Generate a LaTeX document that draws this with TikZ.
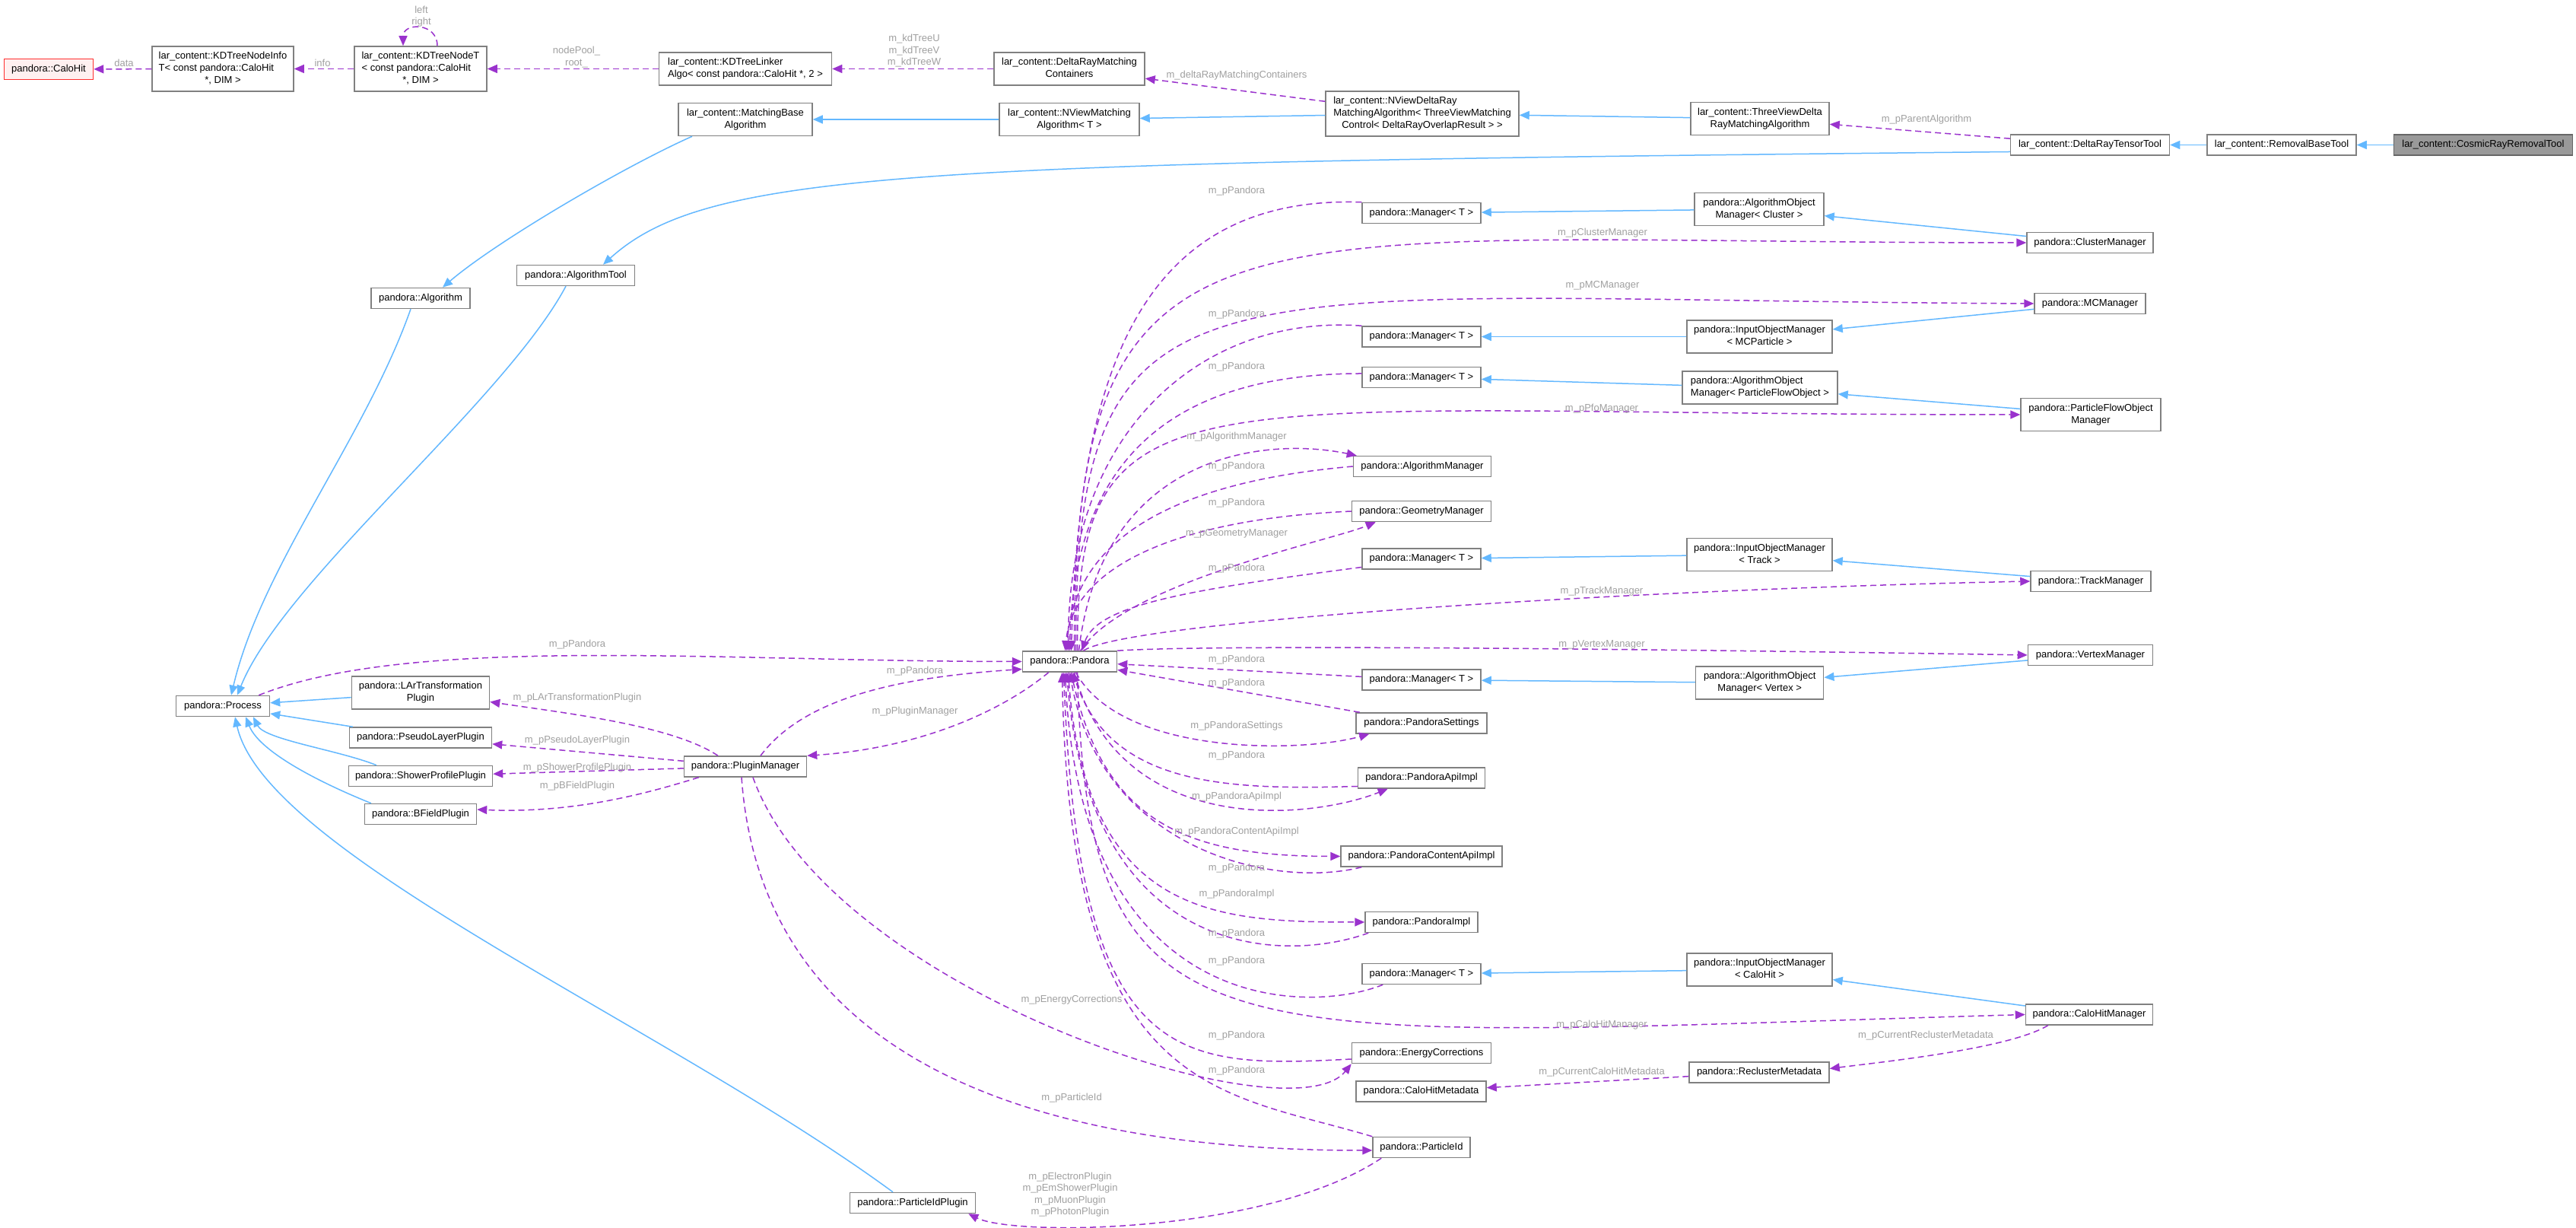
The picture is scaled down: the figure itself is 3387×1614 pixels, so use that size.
\documentclass[tikz,border=0pt]{standalone}
\usepackage{fontspec}
\setmainfont{Liberation Sans}
\usepackage{tikz}
\usetikzlibrary{arrows.meta}
\definecolor{edgeblue}{HTML}{63B8FF}
\definecolor{edgepurple}{HTML}{9A32CD}
\definecolor{lblgrey}{HTML}{A0A0A0}
\definecolor{boxgrey}{HTML}{808080}
\definecolor{hitred}{HTML}{FF3030}
\definecolor{hitfill}{HTML}{FFF0F0}
\newcommand{\boxlines}[2]{\begin{tabular}{@{}l@{}}#1\\\multicolumn{1}{@{}c@{}}{#2}\end{tabular}}

\begin{document}
\begin{tikzpicture}[x=1pt, y=1pt,
  cls/.style={draw=boxgrey, line width=1.5pt, fill=white, inner sep=0pt, minimum height=27pt, font=\fontsize{13}{16}\selectfont},
  lbl/.style={text=lblgrey, inner sep=0pt, align=center, font=\fontsize{13}{15.5}\selectfont},
  inherit/.style={color=edgeblue, draw, line width=1.5pt, -{Triangle[length=13pt, width=11pt]}},
  usage/.style={color=edgepurple, draw, line width=1.5pt, dash pattern=on 8pt off 5pt, -{Triangle[length=13pt, width=11pt]}}]
  \fill[white] (0,0) rectangle (3387,1614);
  \useasboundingbox (0,0) rectangle (3387,1614);

  % classes
  \node[cls, draw=hitred, fill=hitfill, minimum width=117] (caloHit) at (64,1523) {pandora::CaloHit};
  \node[cls, minimum width=186, minimum height=59] (kdInfo) at (293,1523.5) {\boxlines{lar\_content::KDTreeNodeInfo\\T< const pandora::CaloHit}{*, DIM >}};
  \node[cls, minimum width=174, minimum height=59] (kdNode) at (553,1523.5) {\boxlines{lar\_content::KDTreeNodeT\\< const pandora::CaloHit}{*, DIM >}};
  \node[cls, minimum width=227, minimum height=43] (kdLinker) at (980,1523.5) {\boxlines{lar\_content::KDTreeLinker}{Algo< const pandora::CaloHit *, 2 >}};
  \node[cls, minimum width=198, minimum height=43] (containers) at (1406,1523.5) {\boxlines{lar\_content::DeltaRayMatching}{Containers}};
  \node[cls, minimum width=176, minimum height=43] (matchBase) at (980,1457) {\boxlines{lar\_content::MatchingBase}{Algorithm}};
  \node[cls, minimum width=184, minimum height=43] (nviewMatch) at (1406,1457) {\boxlines{lar\_content::NViewMatching}{Algorithm< T >}};
  \node[cls, minimum width=254, minimum height=59] (nviewDelta) at (1870,1464.5) {\boxlines{lar\_content::NViewDeltaRay\\MatchingAlgorithm< ThreeViewMatching}{Control< DeltaRayOverlapResult > >}};
  \node[cls, minimum width=182, minimum height=43] (threeView) at (2314,1458) {\boxlines{lar\_content::ThreeViewDelta}{RayMatchingAlgorithm}};
  \node[cls, minimum width=209] (tensorTool) at (2748,1423.5) {lar\_content::DeltaRayTensorTool};
  \node[cls, minimum width=196] (removalTool) at (3000,1423.5) {lar\_content::RemovalBaseTool};
  \node[cls, draw=black!60, fill=black!40, minimum width=235] (cosmicTool) at (3265,1423.5) {lar\_content::CosmicRayRemovalTool};
  \node[cls, minimum width=155] (algTool) at (757,1252) {pandora::AlgorithmTool};
  \node[cls, minimum width=130] (algorithm) at (553,1222) {pandora::Algorithm};
  \node[cls, minimum width=123] (process) at (293,686) {pandora::Process};
  \node[cls, minimum width=181, minimum height=43] (larPlugin) at (553,703.5) {\boxlines{pandora::LArTransformation}{Plugin}};
  \node[cls, minimum width=187] (pseudoPlugin) at (553,644.5) {pandora::PseudoLayerPlugin};
  \node[cls, minimum width=189] (showerPlugin) at (553,594) {pandora::ShowerProfilePlugin};
  \node[cls, minimum width=147] (bfieldPlugin) at (553,544) {pandora::BFieldPlugin};
  \node[cls, minimum width=161] (pluginMgr) at (980,606.5) {pandora::PluginManager};
  \node[cls, minimum width=165] (pidPlugin) at (1200,33) {pandora::ParticleIdPlugin};
  \node[cls, minimum width=124] (pandora) at (1406.5,744.5) {pandora::Pandora};
  \node[cls, minimum width=156] (mgrA) at (1869,1334) {pandora::Manager< T >};
  \node[cls, minimum width=170, minimum height=43] (algObjCluster) at (2313,1339) {\boxlines{pandora::AlgorithmObject}{Manager< Cluster >}};
  \node[cls, minimum width=166] (clusterMgr) at (2748,1295) {pandora::ClusterManager};
  \node[cls, minimum width=146] (mcMgr) at (2748,1215) {pandora::MCManager};
  \node[cls, minimum width=156] (mgrB) at (1869,1171.5) {pandora::Manager< T >};
  \node[cls, minimum width=191, minimum height=43] (inputMC) at (2313.5,1171.5) {\boxlines{pandora::InputObjectManager}{< MCParticle >}};
  \node[cls, minimum width=156] (mgrC) at (1869,1118) {pandora::Manager< T >};
  \node[cls, minimum width=204, minimum height=43] (algObjPfo) at (2314,1104.5) {\boxlines{pandora::AlgorithmObject}{Manager< ParticleFlowObject >}};
  \node[cls, minimum width=184, minimum height=43] (pfoMgr) at (2749,1069) {\boxlines{pandora::ParticleFlowObject}{Manager}};
  \node[cls, minimum width=181] (algMgr) at (1870,1001) {pandora::AlgorithmManager};
  \node[cls, minimum width=183] (geomMgr) at (1869,942) {pandora::GeometryManager};
  \node[cls, minimum width=156] (mgrD) at (1869,879.5) {pandora::Manager< T >};
  \node[cls, minimum width=191, minimum height=43] (inputTrack) at (2313.5,885) {\boxlines{pandora::InputObjectManager}{< Track >}};
  \node[cls, minimum width=158] (trackMgr) at (2749,850) {pandora::TrackManager};
  \node[cls, minimum width=164] (vertexMgr) at (2748.5,753) {pandora::VertexManager};
  \node[cls, minimum width=168, minimum height=43] (algObjVertex) at (2313.7,716.5) {\boxlines{pandora::AlgorithmObject}{Manager< Vertex >}};
  \node[cls, minimum width=156] (mgrE) at (1869,720.5) {pandora::Manager< T >};
  \node[cls, minimum width=172] (settings) at (1869,663.5) {pandora::PandoraSettings};
  \node[cls, minimum width=167] (apiImpl) at (1869,591.5) {pandora::PandoraApiImpl};
  \node[cls, minimum width=212] (contentApi) at (1869,488.5) {pandora::PandoraContentApiImpl};
  \node[cls, minimum width=148] (pandoraImpl) at (1869,402) {pandora::PandoraImpl};
  \node[cls, minimum width=156] (mgrF) at (1869,334) {pandora::Manager< T >};
  \node[cls, minimum width=191, minimum height=43] (inputCalo) at (2313.5,339.5) {\boxlines{pandora::InputObjectManager}{< CaloHit >}};
  \node[cls, minimum width=167] (caloMgr) at (2747,280.5) {pandora::CaloHitManager};
  \node[cls, minimum width=183] (energy) at (1869,230) {pandora::EnergyCorrections};
  \node[cls, minimum width=184] (recluster) at (2313,204.5) {pandora::ReclusterMetadata};
  \node[cls, minimum width=171] (caloMeta) at (1868.5,179.5) {pandora::CaloHitMetadata};
  \node[cls, minimum width=128] (particleId) at (1869,106) {pandora::ParticleId};

  % inheritance
  \path[inherit]
    (cosmicTool) edge (removalTool)
    (removalTool) edge (tensorTool)
    (threeView) edge (nviewDelta)
    (nviewDelta) edge (nviewMatch)
    (nviewMatch) edge (matchBase)
    (algObjCluster) edge (mgrA)
    (clusterMgr) edge (algObjCluster)
    (inputMC) edge (mgrB)
    (mcMgr) edge (inputMC)
    (algObjPfo) edge (mgrC)
    (pfoMgr) edge (algObjPfo)
    (inputTrack) edge (mgrD)
    (trackMgr) edge (inputTrack)
    (algObjVertex) edge (mgrE)
    (vertexMgr) edge (algObjVertex)
    (inputCalo) edge (mgrF)
    (caloMgr) edge (inputCalo)
    (larPlugin) edge (process)
    (pseudoPlugin) edge (process);
  \draw[inherit] ([yshift=-9]tensorTool.west) .. controls (1200,1400) and (930,1390) .. ([xshift=36]algTool.north);
  \draw[inherit] ([xshift=-70]matchBase.south) .. controls +(-90,-40) and +(70,60) .. ([xshift=29]algorithm.north);
  \draw[inherit] ([xshift=-13]algorithm.south) .. controls +(-60,-170) and +(40,170) .. ([xshift=11]process.north);
  \draw[inherit] ([xshift=-13]algTool.south) .. controls +(-80,-150) and +(60,150) .. ([xshift=19]process.north);
  \draw[inherit] ([xshift=-58]showerPlugin.north) .. controls +(-50,20) and +(15,-30) .. ([xshift=40]process.south);
  \draw[inherit] ([xshift=-65]bfieldPlugin.north) .. controls +(-50,20) and +(20,-50) .. ([xshift=30]process.south);
  \draw[inherit] ([xshift=-26]pidPlugin.north) .. controls +(-300,220) and +(40,-180) .. ([xshift=16]process.south);

  % members
  \path[usage]
    (kdInfo) edge (caloHit)
    (kdNode) edge (kdInfo)
    (kdLinker) edge (kdNode)
    (containers) edge (kdLinker)
    (nviewDelta) edge (containers)
    (tensorTool) edge (threeView)
    (mgrE) edge (pandora)
    (settings) edge (pandora)
    (pluginMgr) edge (pseudoPlugin)
    (pluginMgr) edge (showerPlugin)
    (recluster) edge (caloMeta);
  \draw[usage] ([xshift=22]kdNode.north) .. controls +(0,31) and +(0,31) .. ([xshift=-23]kdNode.north);
  \draw[usage] (mgrA.north west) .. controls +(-300,10) and +(10,350) .. ([xshift=2]pandora.north);
  \draw[usage] ([xshift=6]pandora.north) .. controls +(0,620) and +(-1050,0) .. (clusterMgr.west);
  \draw[usage] ([xshift=8]pandora.north) .. controls +(0,540) and +(-1100,5) .. (mcMgr.west);
  \draw[usage] (mgrB.north west) .. controls +(-200,15) and +(0,300) .. ([xshift=-2]pandora.north);
  \draw[usage] ([yshift=5]mgrC.west) .. controls +(-250,0) and +(5,250) .. (pandora.north);
  \draw[usage] ([xshift=10]pandora.north) .. controls +(0,380) and +(-1100,0) .. (pfoMgr.west);
  \draw[usage] ([xshift=12]pandora.north) .. controls +(30,260) and +(-120,25) .. ([xshift=5]algMgr.north west);
  \draw[usage] (algMgr.west) .. controls +(-230,-20) and +(10,150) .. ([xshift=-4]pandora.north);
  \draw[usage] (geomMgr.west) .. controls +(-230,-10) and +(10,110) .. ([xshift=-6]pandora.north);
  \draw[usage] ([xshift=14]pandora.north) .. controls +(60,90) and +(-60,-25) .. ([xshift=32]geomMgr.south west);
  \draw[usage] ([yshift=-11]mgrD.west) .. controls +(-230,-30) and +(20,60) .. ([xshift=16]pandora.north);
  \draw[usage] ([xshift=18]pandora.north) .. controls +(60,40) and +(-500,-10) .. (trackMgr.west);
  \draw[usage] (pandora.north east) .. controls +(150,10) and +(-300,5) .. (vertexMgr.west);
  \draw[usage] ([xshift=8]pandora.south) .. controls +(60,-110) and +(-90,-25) .. ([xshift=18]settings.south west);
  \draw[usage] ([yshift=-11]apiImpl.west) .. controls +(-170,-5) and +(50,-150) .. ([xshift=4]pandora.south);
  \draw[usage] ([xshift=6]pandora.south) .. controls +(60,-220) and +(-100,-40) .. ([xshift=40]apiImpl.south west);
  \draw[usage] ([xshift=2]pandora.south) .. controls +(40,-200) and +(-200,0) .. (contentApi.west);
  \draw[usage] ([xshift=28]contentApi.south west) .. controls +(-120,-30) and +(40,-230) .. (pandora.south);
  \draw[usage] ([xshift=-2]pandora.south) .. controls +(20,-320) and +(-200,0) .. (pandoraImpl.west);
  \draw[usage] ([xshift=5]pandoraImpl.south west) .. controls +(-110,-40) and +(30,-380) .. ([xshift=-4]pandora.south);
  \draw[usage] ([xshift=28]mgrF.south west) .. controls +(-100,-40) and +(20,-450) .. ([xshift=-6]pandora.south);
  \draw[usage] ([xshift=10]pandora.south) .. controls +(14,-531) and +(-1063,-30) .. (caloMgr.west);
  \draw[usage] ([yshift=-8]energy.west) .. controls +(-230,-12) and +(20,-520) .. ([xshift=-8]pandora.south);
  \draw[usage] (particleId.north west) .. controls +(-200,60) and +(10,-560) .. ([xshift=-10]pandora.south);
  \draw[usage] ([xshift=-15]process.north east) .. controls +(200,80) and +(-400,0) .. (pandora.west);
  \draw[usage] ([xshift=20]pluginMgr.north) .. controls +(60,80) and +(-150,-10) .. ([yshift=-10]pandora.west);
  \draw[usage] ([xshift=35]pandora.south west) .. controls +(-60,-50) and +(150,10) .. (pluginMgr.north east);
  \draw[usage] ([xshift=-36]pluginMgr.north) .. controls +(-60,40) and +(100,-15) .. ([yshift=-12]larPlugin.east);
  \draw[usage] ([xshift=20]pluginMgr.south west) .. controls +(-80,-25) and +(120,-5) .. ([yshift=6]bfieldPlugin.east);
  \draw[usage] ([xshift=10]pluginMgr.south) .. controls +(100,-280) and +(-80,-100) .. (energy.south west);
  \draw[usage] ([xshift=-5]pluginMgr.south) .. controls +(30,-420) and +(-350,0) .. ([yshift=-4]particleId.west);
  \draw[usage] ([xshift=12]particleId.south west) .. controls +(-150,-100) and +(60,-30) .. ([xshift=-10]pidPlugin.south east);
  \draw[usage] ([xshift=30]caloMgr.south west) .. controls +(-50,-30) and +(80,10) .. ([yshift=5]recluster.east);

  % member labels
  \node[lbl] (lData) at (163,1531) {data};
  \node[lbl] (lInfo) at (424,1531) {info};
  \node[lbl] (lLeftRight) at (554,1592.5) {left\\right};
  \node[lbl] (lNodePool) at (758,1539) {nodePool\_\\root\_};
  \node[lbl] (lKdTree) at (1202,1547) {m\_kdTreeU\\m\_kdTreeV\\m\_kdTreeW};
  \node[lbl] (lContainers) at (1626,1515) {m\_deltaRayMatchingContainers};
  \node[lbl] (lParentAlg) at (2533,1457) {m\_pParentAlgorithm};
  \node[lbl] (lPandoraA) at (1626,1363) {m\_pPandora};
  \node[lbl] (lClusterMgr) at (2107,1308) {m\_pClusterManager};
  \node[lbl] (lMCMgr) at (2107,1239) {m\_pMCManager};
  \node[lbl] (lPandoraB) at (1626,1201) {m\_pPandora};
  \node[lbl] (lPandoraC) at (1626,1132) {m\_pPandora};
  \node[lbl] (lPfoMgr) at (2106,1077) {m\_pPfoManager};
  \node[lbl] (lAlgMgr) at (1626,1040) {m\_pAlgorithmManager};
  \node[lbl] (lPandoraD) at (1626,1001) {m\_pPandora};
  \node[lbl] (lPandoraE) at (1626,953) {m\_pPandora};
  \node[lbl] (lGeomMgr) at (1626,913) {m\_pGeometryManager};
  \node[lbl] (lPandoraF) at (1626,867) {m\_pPandora};
  \node[lbl] (lTrackMgr) at (2106,837) {m\_pTrackManager};
  \node[lbl] (lVertexMgr) at (2106,767) {m\_pVertexManager};
  \node[lbl] (lPandoraG) at (1626,747) {m\_pPandora};
  \node[lbl] (lPandoraH) at (1626,716) {m\_pPandora};
  \node[lbl] (lSettings) at (1626,660) {m\_pPandoraSettings};
  \node[lbl] (lPandoraI) at (1626,621) {m\_pPandora};
  \node[lbl] (lApiImpl) at (1626,567) {m\_pPandoraApiImpl};
  \node[lbl] (lContentApi) at (1626,521) {m\_pPandoraContentApiImpl};
  \node[lbl] (lPandoraJ) at (1626,473) {m\_pPandora};
  \node[lbl] (lPandoraImpl) at (1626,439) {m\_pPandoraImpl};
  \node[lbl] (lPandoraK) at (1626,387) {m\_pPandora};
  \node[lbl] (lPandoraL) at (1626,351) {m\_pPandora};
  \node[lbl] (lCaloHitMgr) at (2106,267) {m\_pCaloHitManager};
  \node[lbl] (lPandoraM) at (1626,253) {m\_pPandora};
  \node[lbl] (lRecluster) at (2532,253) {m\_pCurrentReclusterMetadata};
  \node[lbl] (lPandoraN) at (1626,207) {m\_pPandora};
  \node[lbl] (lCaloMeta) at (2106,205) {m\_pCurrentCaloHitMetadata};
  \node[lbl] (lEnergy) at (1409,300) {m\_pEnergyCorrections};
  \node[lbl] (lParticleId) at (1409,171) {m\_pParticleId};
  \node[lbl] (lPidPlugins) at (1407,44) {m\_pElectronPlugin\\m\_pEmShowerPlugin\\m\_pMuonPlugin\\m\_pPhotonPlugin};
  \node[lbl] (lPandoraP) at (759,767) {m\_pPandora};
  \node[lbl] (lPandoraQ) at (1203,732) {m\_pPandora};
  \node[lbl] (lPluginMgr) at (1203,679) {m\_pPluginManager};
  \node[lbl] (lLarPlugin) at (759,697) {m\_pLArTransformationPlugin};
  \node[lbl] (lPseudoPlugin) at (759,641) {m\_pPseudoLayerPlugin};
  \node[lbl] (lShowerPlugin) at (759,605) {m\_pShowerProfilePlugin};
  \node[lbl] (lBFieldPlugin) at (759,581) {m\_pBFieldPlugin};
\end{tikzpicture}
\end{document}
